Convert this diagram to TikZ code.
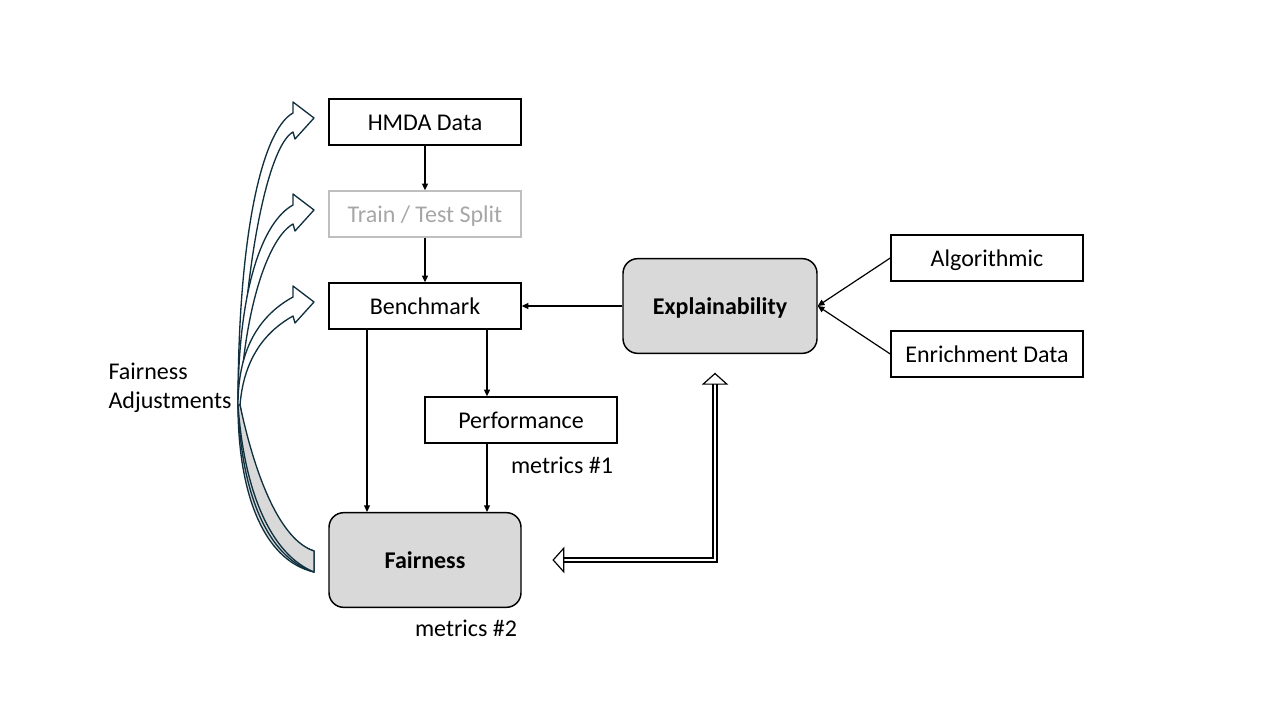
\documentclass[tikz,border=0pt]{standalone}
\usepackage{fontspec}
\setmainfont{Carlito}
\usetikzlibrary{arrows.meta}
\definecolor{shade}{HTML}{D9D9D9}
\definecolor{navy}{HTML}{10303F}
\definecolor{faded}{HTML}{BFBFBF}
\definecolor{fadedtext}{HTML}{A6A6A6}

\begin{document}
\begin{tikzpicture}[x=0.75pt, y=-0.75pt, line width=0.9pt,
    font=\fontsize{18}{21.6}\selectfont,
    box/.style={draw, line width=1.1pt, minimum width=144pt, minimum height=34.5pt, inner sep=0pt,
      text height=12.5pt, text depth=0pt},
    block/.style={draw, line width=1.1pt, fill=shade, rounded corners=11pt, minimum width=144pt,
      minimum height=71pt, inner sep=0pt, text height=12.5pt, text depth=0pt,
      font=\fontsize{18}{21.6}\selectfont\bfseries},
    dbl/.style={double, double distance=2.2pt, line width=0.9pt,
      {Triangle[open, length=9pt, width=20pt]}-{Triangle[open, length=9pt, width=20pt]}},
    curl/.style={draw=navy, line width=1pt, line join=round},
    >={Triangle[length=5pt, width=4.5pt]}]
    \useasboundingbox (0,0) rectangle (1280,720);

    \node[box] (HMDA) at (425,122) {HMDA Data};
    \node[box, draw=faded, text=fadedtext] (Split) at (425,214) {Train / Test Split};
    \node[box] (Bench) at (425,306) {Benchmark};
    \node[box] (Perf) at (521,420) {Performance};
    \node[block] (Fair) at (425,560) {Fairness};
    \node[block, minimum width=145.5pt] (Expl) at (720,306) {Explainability};
    \node[box] (Algo) at (987,258) {Algorithmic};
    \node[box] (Enrich) at (987,354) {Enrichment Data};

    \node (m1) at (562,465) {metrics \#1};
    \node (m2) at (466,628) {metrics \#2};
    \node[anchor=west, align=left, inner sep=0pt] (adj) at (108,388) {Fairness\\Adjustments};

    \draw[->] (HMDA) to (Split);
    \draw[->] (Split) to (Bench);
    \draw[->] ([xshift=-43.5pt]Bench.south) to ([xshift=-43.5pt]Bench.south |- Fair.north);
    \draw[->] ([xshift=46.5pt]Bench.south) to ([xshift=46.5pt]Bench.south |- Perf.north);
    \draw[->] ([xshift=-25.5pt]Perf.south) to ([xshift=-25.5pt]Perf.south |- Fair.north);
    \draw[->] (Expl) to (Bench);
    \draw[->] (Algo.west) to (Expl.east);
    \draw[->] (Enrich.west) to (Expl.east);
    \draw[dbl] ([xshift=-3.75pt, yshift=-14pt]Expl.south) |- ([xshift=23pt]Fair.east);

    % fairness adjustments, back side
    \foreach \k in {0,1,2}
      \filldraw[curl, fill=shade] (238,405) .. controls (238+\k*3,490) and (262+\k*4,560-\k*3) .. (314,572)
        -- (314,551) .. controls (275+\k*3,540) and (250+\k*3,480) .. (240,405) -- cycle;
    % fairness adjustments, front side
    \foreach \y in {122,214,306}
      \filldraw[curl, fill=white] (238,405) .. controls (238,{405-0.6*(405-\y)}) and (262,\y+8) .. (293,\y-9)
        -- (293,\y-20) -- (314,\y-4) -- (295,\y+17) -- (293,\y+10)
        .. controls (268,\y+24) and (244,{405-0.5*(405-\y)}) .. (240,405) -- cycle;
  \end{tikzpicture}
\end{document}
